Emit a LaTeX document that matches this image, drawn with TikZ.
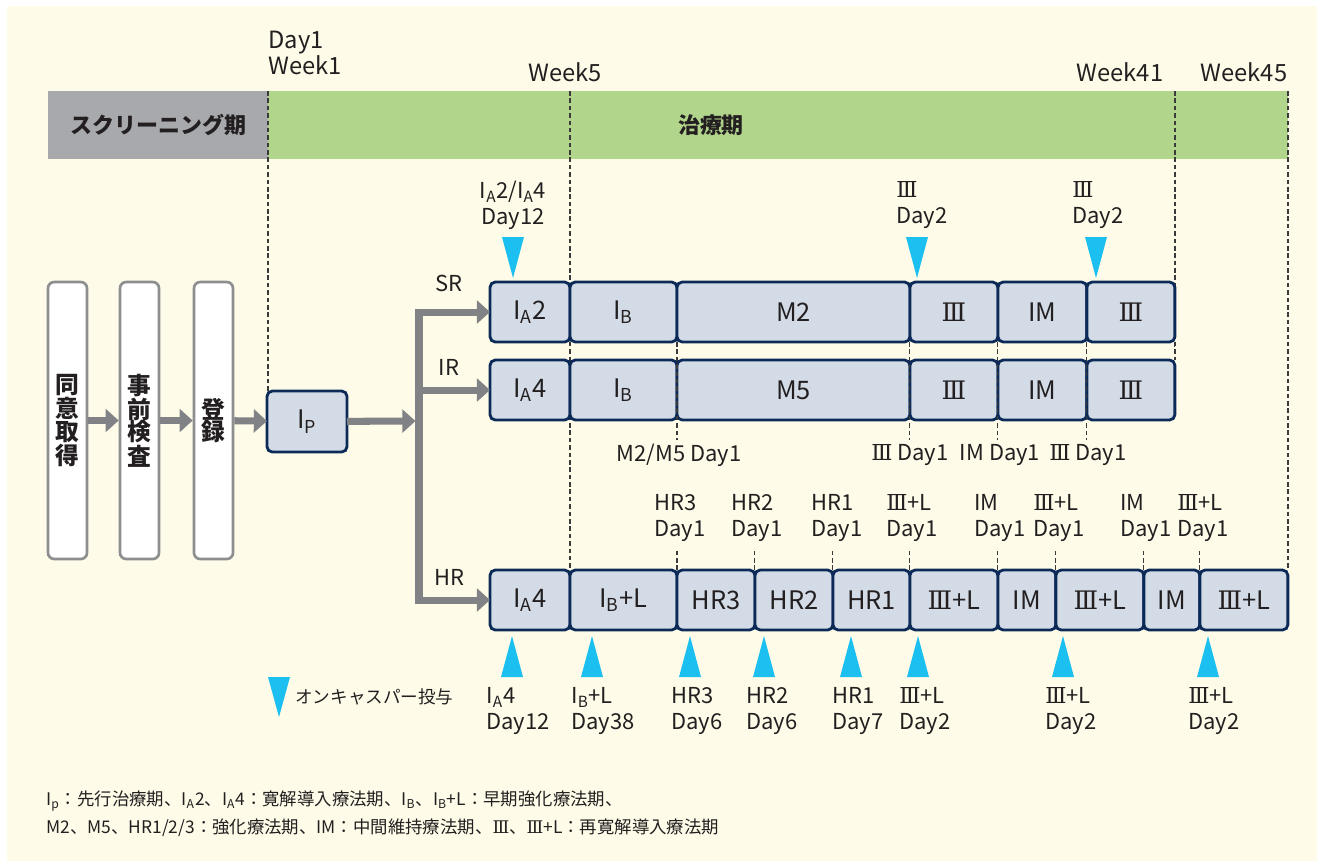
\documentclass[tikz,border=0pt]{standalone}
\usepackage{fontspec}
\setmainfont{Noto Sans CJK JP}
\newfontfamily\romanfont{DejaVu Serif}
\newcommand{\three}{{\romanfont Ⅲ}}
\usetikzlibrary{positioning,arrows.meta}

\definecolor{cream}{HTML}{FEFBE8}
\definecolor{screengray}{HTML}{A7A9AC}
\definecolor{treatgreen}{HTML}{B2D58C}
\definecolor{boxfill}{HTML}{D3DBE6}
\definecolor{navy}{HTML}{0C2A58}
\definecolor{arrowgray}{HTML}{808285}
\definecolor{stepgray}{HTML}{8C8E90}
\definecolor{dosecyan}{HTML}{1CC0F0}
\definecolor{ink}{HTML}{231F20}
\definecolor{guidegray}{HTML}{3A3A3A}

\begin{document}
\begin{tikzpicture}[
  x=0.02cm, y=-0.02cm,
  font=\fontsize{12.5}{14.7}\selectfont, text=ink,
  phase/.style={rectangle, rounded corners=3pt, draw=navy, line width=1.6pt,
    fill=boxfill, minimum height=1.2cm, inner sep=0pt, outer sep=0pt,
    font=\fontsize{14.5}{16}\selectfont},
  stepbox/.style={rectangle, rounded corners=3.5pt, draw=stepgray, line width=1.5pt,
    fill=white, minimum width=0.78cm, minimum height=5.54cm, inner sep=0pt,
    align=center, font=\bfseries\fontsize{13.5}{12.8}\selectfont},
  bar/.style={rectangle, anchor=north west, minimum height=1.36cm, inner sep=0pt},
  lbl/.style={inner sep=0pt, align=left},
  flow/.style={draw=arrowgray, line width=4pt, -{Triangle[length=7.5pt,width=13pt]}},
  guide/.style={draw=guidegray, line width=0.6pt, dash pattern=on 2.6pt off 1.6pt},
  dose/.style={fill=dosecyan}
  ]

% background
\useasboundingbox[fill=white] (0,0) rectangle (1324,867);
\fill[cream] (7,6) rectangle (1317,861);

% period bars
\node[bar, fill=screengray, minimum width=4.4cm, font=\bfseries\fontsize{12.5}{15}\selectfont] (screen) at (48,91) {スクリーニング期};
\node[bar, fill=treatgreen, minimum width=20.4cm] (treat) at (268,91) {};
\node[lbl, font=\bfseries\fontsize{12.5}{15}\selectfont] (treatlbl) at (711,125) {治療期};

\node[lbl, anchor=west, font=\fontsize{13.5}{14.7}\selectfont] (day1) at (268,53) {Day1\\Week1};
\node[lbl, font=\fontsize{13.5}{15}\selectfont] (wk5) at (565,72) {Week5};
\node[lbl, font=\fontsize{13.5}{15}\selectfont] (wk41) at (1120,72) {Week41};
\node[lbl, font=\fontsize{13.5}{15}\selectfont] (wk45) at (1244,72) {Week45};

% long guides
\draw[guide] (268,91) -- (268,391);
\draw[guide] (570,91) -- (570,570);
\draw[guide] (1175,91) -- (1175,360);
\draw[guide] (1288,91) -- (1288,570);

% screening steps
\node[stepbox] (consent) at (67.5,420.5) {同\\意\\取\\得};
\node[stepbox] (precheck) at (139.5,420.5) {事\\前\\検\\査};
\node[stepbox] (register) at (213.5,420.5) {登\\録};
\node[phase, minimum width=1.6cm, minimum height=1.22cm] (ip) at (307,421.5) {I\textsubscript{P}};

% SR row
\node[phase, minimum width=1.6cm, anchor=west] (sr1) at (490,312) {I\textsubscript{A}2};
\node[phase, minimum width=2.14cm, right=0pt of sr1] (sr2) {I\textsubscript{B}};
\node[phase, minimum width=4.66cm, right=0pt of sr2] (sr3) {M2};
\node[phase, minimum width=1.76cm, right=0pt of sr3] (sr4) {\three};
\node[phase, minimum width=1.78cm, right=0pt of sr4] (sr5) {IM};
\node[phase, minimum width=1.76cm, right=0pt of sr5] (sr6) {\three};

% IR row
\node[phase, minimum width=1.6cm, anchor=west] (ir1) at (490,390) {I\textsubscript{A}4};
\node[phase, minimum width=2.14cm, right=0pt of ir1] (ir2) {I\textsubscript{B}};
\node[phase, minimum width=4.66cm, right=0pt of ir2] (ir3) {M5};
\node[phase, minimum width=1.76cm, right=0pt of ir3] (ir4) {\three};
\node[phase, minimum width=1.78cm, right=0pt of ir4] (ir5) {IM};
\node[phase, minimum width=1.76cm, right=0pt of ir5] (ir6) {\three};

% HR row
\node[phase, minimum width=1.6cm, anchor=west] (hr1) at (490,600) {I\textsubscript{A}4};
\node[phase, minimum width=2.14cm, right=0pt of hr1] (hr2) {I\textsubscript{B}+L};
\node[phase, minimum width=1.56cm, right=0pt of hr2] (hr3) {HR3};
\node[phase, minimum width=1.56cm, right=0pt of hr3] (hr4) {HR2};
\node[phase, minimum width=1.54cm, right=0pt of hr4] (hr5) {HR1};
\node[phase, minimum width=1.76cm, right=0pt of hr5] (hr6) {\three+L};
\node[phase, minimum width=1.16cm, right=0pt of hr6] (hr7) {IM};
\node[phase, minimum width=1.76cm, right=0pt of hr7] (hr8) {\three+L};
\node[phase, minimum width=1.12cm, right=0pt of hr8] (hr9) {IM};
\node[phase, minimum width=1.76cm, right=0pt of hr9] (hr10) {\three+L};

\node[lbl] (srlbl) at (449,283) {SR};
\node[lbl] (irlbl) at (449,367) {IR};
\node[lbl] (hrlbl) at (449,577) {HR};

% flow
\coordinate (split) at (419,421);
\draw[flow] (consent) -- (precheck);
\draw[flow] (precheck) -- (register);
\draw[flow] (register) -- (ip);
\draw[flow, shorten >=2pt] (ip) -- (split);
\draw[flow] (split |- sr1.west) -- (split |- hr1.west) -- (hr1.west);
\draw[flow, line cap=rect] (split |- sr1.west) -- (sr1.west);
\draw[flow] (split |- ir1.west) -- (ir1.west);

% short guides
\foreach \b in {sr2,sr3,sr4,sr5}
  \draw[guide] (\b.south east) -- ++(0,98);
\draw[guide] (sr6.south east) -- (ir6.north east);
\foreach \b in {hr2,hr3,hr4,hr5,hr6,hr7,hr8,hr9}
  \draw[guide] (\b.north east) -- ++(0,-22);

\node[lbl] (m2day) at (679,455) {M2/M5 Day1};
\node[lbl] (r3day) at (910,455) {\three\ Day1};
\node[lbl] (imday) at (1000,455) {IM Day1};
\node[lbl] (r3bday) at (1088,455) {\three\ Day1};

\foreach \x/\t [count=\i] in {680/HR3, 757/HR2, 837/HR1, 912/\three+L, 1000/IM, 1059/\three+L, 1146/IM, 1203/\three+L}
  \node[lbl] (hrday\i) at (\x,518) {\t\\Day1};

% oncaspar doses
\foreach \x in {513,917,1096}
  \fill[dose] (\x-11,237) -- (\x+11,237) -- (\x,278) -- cycle;
\foreach \x in {512,592,690,764,851,918,1063,1208}
  \fill[dose] (\x-11,677) -- (\x+11,677) -- (\x,636) -- cycle;

\node[lbl, align=center] (dsr) at (513,205) {I\textsubscript{A}2/I\textsubscript{A}4\\Day12};
\node[lbl] (d3a) at (922,205) {\three\\Day2};
\node[lbl] (d3b) at (1098,205) {\three\\Day2};

\foreach \x/\t/\d [count=\i] in {518/{I\textsubscript{A}4}/Day12, 603/{I\textsubscript{B}+L}/Day38,
    697/HR3/Day6, 772/HR2/Day6, 858/HR1/Day7, 925/\three+L/Day2, 1071/\three+L/Day2, 1214/\three+L/Day2}
  \node[lbl] (dhr\i) at (\x,711) {\t\\\d};

% legend
\fill[dose] (268,677) -- (290,677) -- (279,717) -- cycle;
\node[lbl, anchor=west, font=\fontsize{10}{12}\selectfont] (legend) at (295,697) {オンキャスパー投与};

% notes
\node[lbl, anchor=west, font=\fontsize{9.9}{11}\selectfont] (note1) at (46,801)
  {I\textsubscript{p}：先行治療期、I\textsubscript{A}2、I\textsubscript{A}4：寛解導入療法期、I\textsubscript{B}、I\textsubscript{B}+L：早期強化療法期、};
\node[lbl, anchor=west, font=\fontsize{9.9}{11}\selectfont] (note2) at (46,828)
  {M2、M5、HR1/2/3：強化療法期、IM：中間維持療法期、\three、\three+L：再寛解導入療法期};
\end{tikzpicture}
\end{document}
